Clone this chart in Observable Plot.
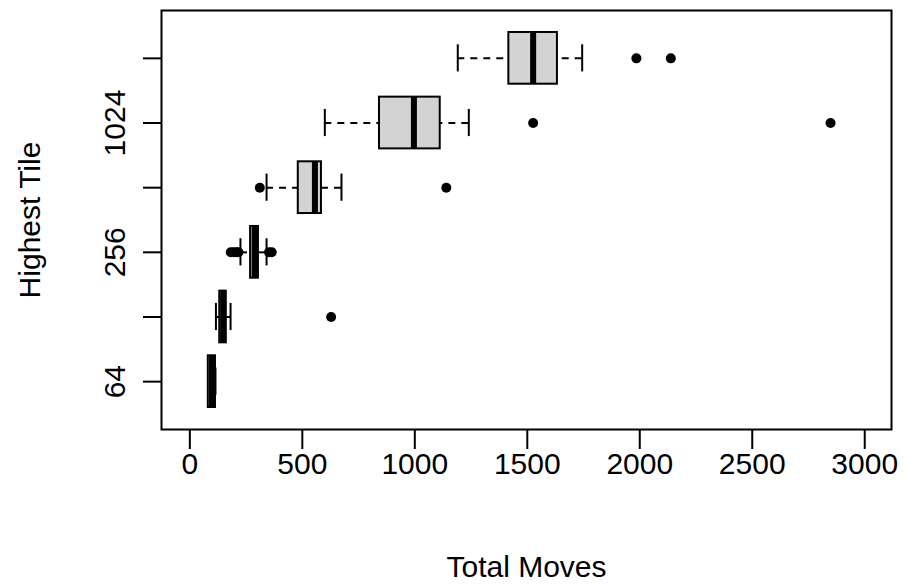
<!DOCTYPE html>
<html><head><meta charset="utf-8">
<script src="https://cdn.jsdelivr.net/npm/d3@7"></script>
<script src="https://cdn.jsdelivr.net/npm/@observablehq/plot@0.6"></script>
<style>body{margin:0;background:#fff} #chart svg{display:block}</style>
</head><body><div id="chart"></div>
<script>
// Categories (highest tile reached)
const tiles = ["64", "128", "256", "512", "1024", "2048"];
// Box statistics (total moves), per tile
const whiskerLow  = [82, 116, 225, 341, 600, 1191];
const q1          = [82, 133, 270, 482, 843, 1418];
const median      = [98, 148, 288, 556, 996, 1526];
const q3          = [114, 162, 305, 585, 1113, 1634];
const whiskerHigh = [114, 181, 341, 674, 1240, 1744];
// Outliers
const outlierTile  = ["128", "256", "256", "256", "256", "256", "256", "512", "512", "1024", "1024", "2048", "2048"];
const outlierValue = [628, 182, 195, 207, 216, 352, 364, 311, 1140, 1526, 2848, 1985, 2138];
// Tick labels
const xTicks = [0, 500, 1000, 1500, 2000, 2500, 3000];
const yLabelTiles = ["64", "256", "1024"];

const rows = tiles.map((t, i) => ({
  tile: t, pos: i + 1,
  wlo: whiskerLow[i], q1: q1[i], med: median[i], q3: q3[i], whi: whiskerHigh[i]
}));
const outs = outlierTile.map((t, i) => ({pos: tiles.indexOf(t) + 1, value: outlierValue[i]}));

const chart = Plot.plot({
  width: 905, height: 584,
  marginLeft: 161, marginRight: 14, marginTop: 10, marginBottom: 155,
  style: {fontFamily: "'Liberation Sans', Arial, sans-serif", background: "#fff", color: "black"},
  x: {domain: [-126, 3119]},
  y: {domain: [0.26, 6.74]},
  marks: [
    Plot.ruleY(rows, {y: "pos", x1: "wlo", x2: "q1", stroke: "black", strokeWidth: 2, strokeDasharray: "7,6"}),
    Plot.ruleY(rows, {y: "pos", x1: "whi", x2: "q3", stroke: "black", strokeWidth: 2, strokeDasharray: "7,6"}),
    Plot.ruleX(rows, {x: "wlo", y1: d => d.pos - 0.21, y2: d => d.pos + 0.21, stroke: "black", strokeWidth: 2}),
    Plot.ruleX(rows, {x: "whi", y1: d => d.pos - 0.21, y2: d => d.pos + 0.21, stroke: "black", strokeWidth: 2}),
    Plot.rect(rows, {x1: "q1", x2: "q3", y1: d => d.pos - 0.4, y2: d => d.pos + 0.4, fill: "#d3d3d3", stroke: "black", strokeWidth: 2}),
    Plot.ruleX(rows, {x: "med", y1: d => d.pos - 0.4, y2: d => d.pos + 0.4, stroke: "black", strokeWidth: 6}),
    Plot.dot(outs, {x: "value", y: "pos", r: 5, fill: "black", stroke: "none"}),
    Plot.frame({stroke: "black", strokeWidth: 2}),
    Plot.axisX({ticks: xTicks, tickSize: 20, tickPadding: 3, fontSize: 30, strokeWidth: 2, label: null, tickFormat: d => String(d)}),
    Plot.axisY({ticks: rows.map(d => d.pos), tickSize: 18, tickFormat: () => "", strokeWidth: 2, label: null}),
    Plot.axisY({ticks: yLabelTiles.map(t => tiles.indexOf(t) + 1), tickSize: 0, tickPadding: 37, tickRotate: -90,
      textAnchor: "middle", lineAnchor: "bottom", fontSize: 30, tickFormat: p => tiles[p - 1], label: null}),
    Plot.text(["Total Moves"], {text: d => d, frameAnchor: "bottom", dy: 138, textAnchor: "middle", lineAnchor: "middle", fontSize: 30, fill: "black"}),
    Plot.text(["Highest Tile"], {text: d => d, frameAnchor: "left", dx: -131, rotate: -90, textAnchor: "middle", lineAnchor: "middle", fontSize: 30, fill: "black"})
  ]
});
document.getElementById("chart").appendChild(chart);
</script>
</body></html>
